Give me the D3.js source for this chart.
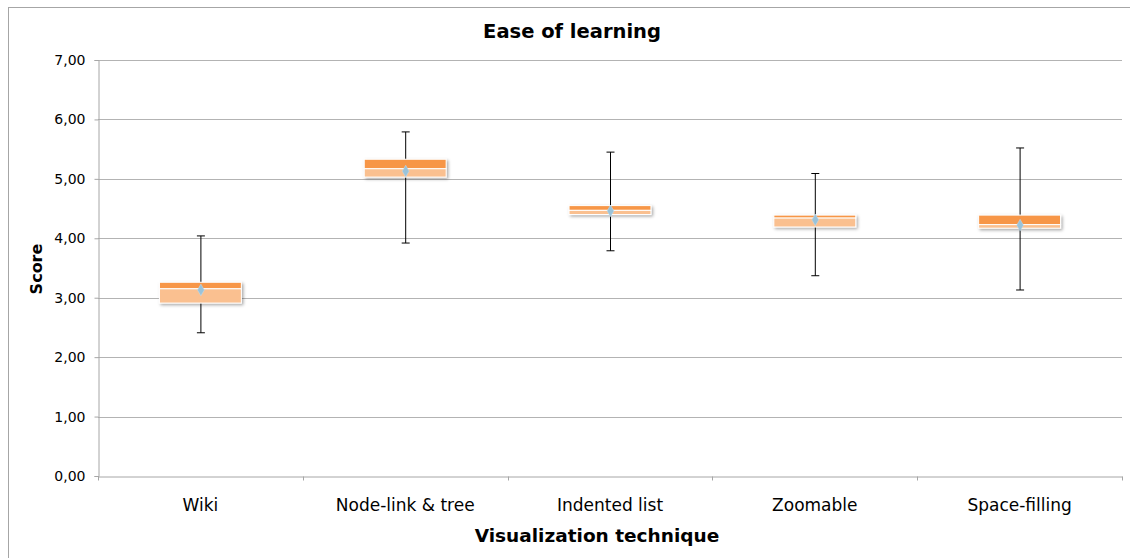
<!DOCTYPE html>
<html>
<head>
<meta charset="utf-8">
<script src="https://cdn.jsdelivr.net/npm/d3@7"></script>
<style>
  body { margin: 0; background: #fff; }
  svg text { font-family: "DejaVu Sans", Verdana, sans-serif; fill: #000; }
</style>
</head>
<body>
<svg id="chart" width="1130" height="558"></svg>
<script>
// values
var techniques = ["Wiki", "Node-link & tree", "Indented list", "Zoomable", "Space-filling"];
var minVals    = [2.41, 3.92, 3.79, 3.37, 3.13];
var q1Vals     = [2.91, 5.03, 4.40, 4.19, 4.17];
var medianVals = [3.15, 5.17, 4.47, 4.34, 4.23];
var q3Vals     = [3.26, 5.33, 4.55, 4.39, 4.39];
var maxVals    = [4.04, 5.79, 5.45, 5.09, 5.52];
var meanVals   = [3.13, 5.13, 4.46, 4.31, 4.22];
var yTicks     = [0, 1, 2, 3, 4, 5, 6, 7];

var svg = d3.select("#chart");
var margin = {left: 98, right: 8, top: 60, bottom: 82};
var width = 1130, height = 558;

// outer frame
svg.append("rect")
    .attr("x", 8.5).attr("y", 7.5)
    .attr("width", 1130).attr("height", 560)
    .attr("fill", "none").attr("stroke", "#a6a6a6");

var x = d3.scaleBand()
    .domain(techniques)
    .range([margin.left, width - margin.right])
    .paddingInner(0).paddingOuter(0);

var y = d3.scaleLinear()
    .domain([0, 7])
    .range([height - margin.bottom, margin.top]);

// drop shadow for boxes
var defs = svg.append("defs");
var f = defs.append("filter").attr("id", "shadow")
    .attr("x", "-20%").attr("y", "-50%").attr("width", "150%").attr("height", "250%");
f.append("feDropShadow").attr("dx", 1.5).attr("dy", 1.5).attr("stdDeviation", 1.5)
    .attr("flood-color", "#000").attr("flood-opacity", 0.35);

// gridlines
svg.append("g").selectAll("line")
    .data(yTicks.filter(d => d > 0))
    .enter().append("line")
    .attr("x1", margin.left).attr("x2", width - margin.right)
    .attr("y1", d => Math.round(y(d)) + 0.5).attr("y2", d => Math.round(y(d)) + 0.5)
    .attr("stroke", "#b3b3b3");

// y axis
var yAxis = d3.axisLeft(y).tickValues(yTicks).tickSize(4).tickPadding(9)
    .tickFormat(d => d3.format(".2f")(d).replace(".", ","));
var gy = svg.append("g")
    .attr("transform", "translate(" + (margin.left + 0.5) + ",0)")
    .call(yAxis);
gy.attr("font-size", null);
gy.select(".domain").attr("stroke", "#a6a6a6");
gy.selectAll(".tick line").attr("stroke", "#a6a6a6");
gy.selectAll(".tick text").style("font-size", "14px").attr("x", -13);

// x axis
var xAxis = d3.axisBottom(x).tickSize(0).tickPadding(0);
var gx = svg.append("g")
    .attr("transform", "translate(0," + (Math.round(y(0)) + 0.5) + ")")
    .call(xAxis);
gx.select(".domain").attr("stroke", "#a6a6a6");
gx.selectAll(".tick text").style("font-size", "17px").attr("dy", null).attr("y", 34);
// category boundary ticks
gx.append("g").selectAll("line")
    .data(techniques.map(d => x(d) + x.bandwidth()).concat([x(techniques[0])]))
    .enter().append("line")
    .attr("x1", d => Math.round(d) + 0.5).attr("x2", d => Math.round(d) + 0.5)
    .attr("y1", 0).attr("y2", 4)
    .attr("stroke", "#a6a6a6");

var boxW = x.bandwidth() * 0.4;
var groups = svg.append("g").selectAll("g")
    .data(techniques)
    .enter().append("g")
    .attr("transform", d => "translate(" + (x(d) + x.bandwidth() / 2) + ",0)");

// whiskers
groups.append("line")
    .attr("x1", 0.5).attr("x2", 0.5)
    .attr("y1", (d, i) => y(maxVals[i])).attr("y2", (d, i) => y(minVals[i]))
    .attr("stroke", "#000");
groups.append("line")
    .attr("x1", -3.5).attr("x2", 4.5)
    .attr("y1", (d, i) => y(maxVals[i])).attr("y2", (d, i) => y(maxVals[i]))
    .attr("stroke", "#000");
groups.append("line")
    .attr("x1", -3.5).attr("x2", 4.5)
    .attr("y1", (d, i) => y(minVals[i])).attr("y2", (d, i) => y(minVals[i]))
    .attr("stroke", "#000");

// boxes: upper half dark, lower half light
var boxes = groups.append("g").attr("filter", "url(#shadow)");
boxes.append("rect")
    .attr("x", -boxW / 2).attr("width", boxW)
    .attr("y", (d, i) => y(q3Vals[i]))
    .attr("height", (d, i) => y(medianVals[i]) - y(q3Vals[i]))
    .attr("fill", "#f79646").attr("stroke", "#fff").attr("stroke-width", 1);
boxes.append("rect")
    .attr("x", -boxW / 2).attr("width", boxW)
    .attr("y", (d, i) => y(medianVals[i]))
    .attr("height", (d, i) => y(q1Vals[i]) - y(medianVals[i]))
    .attr("fill", "#fac090").attr("stroke", "#fff").attr("stroke-width", 1);

// mean marker
groups.append("path")
    .attr("d", d3.symbol().type(d3.symbolDiamond).size(40))
    .attr("transform", (d, i) => "translate(0.5," + y(meanVals[i]) + ")")
    .attr("fill", "#9ac3da").attr("stroke", "#c4dcea").attr("stroke-width", 0.5);

// titles
svg.append("text")
    .attr("x", 572).attr("y", 38)
    .attr("text-anchor", "middle")
    .style("font-size", "19.5px").style("font-weight", "bold")
    .text("Ease of learning");

svg.append("text")
    .attr("transform", "translate(42,269) rotate(-90)")
    .attr("text-anchor", "middle")
    .style("font-size", "16px").style("font-weight", "bold")
    .text("Score");

svg.append("text")
    .attr("x", 597).attr("y", 542)
    .attr("text-anchor", "middle")
    .style("font-size", "18.5px").style("font-weight", "bold")
    .text("Visualization technique");
</script>
</body>
</html>
